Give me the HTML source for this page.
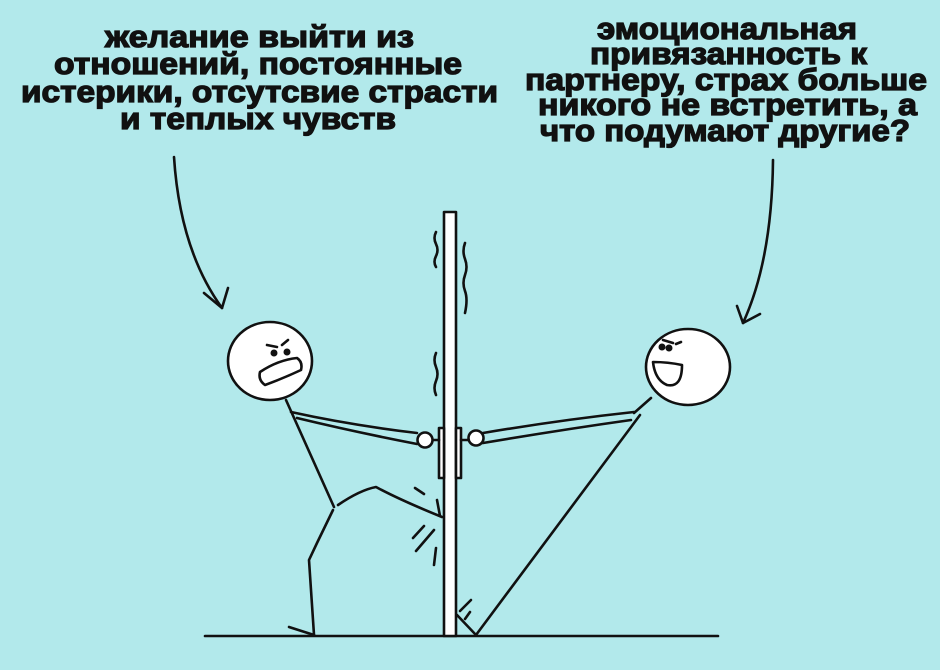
<!DOCTYPE html>
<html><head><meta charset="utf-8"><style>
html,body{margin:0;padding:0;background:#b2e9eb;}
svg{display:block}
text{font-family:"Liberation Sans","DejaVu Sans",sans-serif;font-weight:bold;font-size:31px;fill:#111;stroke:#111;stroke-width:1.3px;}
</style></head><body>
<svg width="940" height="670" viewBox="0 0 940 670" xmlns="http://www.w3.org/2000/svg">
<rect width="940" height="670" fill="#b2e9eb"/>
<g>
<text x="105" y="47" textLength="309" lengthAdjust="spacingAndGlyphs">желание выйти из</text>
<text x="54" y="74" textLength="408" lengthAdjust="spacingAndGlyphs">отношений, постоянные</text>
<text x="21" y="102" textLength="477" lengthAdjust="spacingAndGlyphs">истерики, отсутсвие страсти</text>
<text x="120" y="129" textLength="276" lengthAdjust="spacingAndGlyphs">и теплых чувств</text>
<text x="597" y="39" textLength="260" lengthAdjust="spacingAndGlyphs">эмоциональная</text>
<text x="590" y="64" textLength="277" lengthAdjust="spacingAndGlyphs">привязанность к</text>
<text x="525" y="90" textLength="402" lengthAdjust="spacingAndGlyphs">партнеру, страх больше</text>
<text x="538" y="115" textLength="379" lengthAdjust="spacingAndGlyphs">никого не встретить, а</text>
<text x="540" y="141" textLength="370" lengthAdjust="spacingAndGlyphs">что подумают другие?</text>
</g>
<g fill="none" stroke="#111" stroke-width="2.6" stroke-linecap="round" stroke-linejoin="round">
<path d="M174 157 Q180 250 222 308"/>
<path d="M204 293 L222 308 L228 288"/>
<path d="M773 160 Q772 260 743 323"/>
<path d="M737 306 L743 323 L760 314"/>
<path d="M205 636 L718 636"/>
<rect x="444" y="212" width="12" height="424" fill="#fff"/>
<rect x="439" y="428" width="5" height="50" fill="#fff"/>
<rect x="456" y="428" width="5" height="50" fill="#fff"/>
<path d="M432 440 L439 440 M461 440 L468 440"/>
<path d="M436 232 q-3 6 0 12 q3 6 0 12 q-3 6 0 11"/>
<path d="M465 243 q-3 8 0 16 q3 8 0 16 q-3 8 0 16 q3 8 0 22"/>
<path d="M436 353 q-3 7 0 14 q3 7 0 14 q-3 7 0 14"/>
<path d="M415 488 L424 494"/>
<path d="M437 500 L440 516"/>
<path d="M413 538 L424 526 M416 551 L434 530 M436 548 L434 565"/>
<path d="M460 611 L471 600 M465 619 L470 612"/>
<ellipse cx="270" cy="361" rx="42" ry="39" fill="#fff"/>
<path d="M260 372 Q278 360 297 358 Q303 362 301 370 Q284 378 265 385 Q258 380 260 372 Z" fill="#fff"/>
<circle cx="274" cy="353" r="2.2" fill="#111"/><circle cx="287" cy="352" r="2.2" fill="#111"/>
<path d="M267 345 L277 347 M282 345 L288 340"/>
<path d="M286 400 L334 507"/>
<path d="M291 412 Q350 425 417 433"/>
<path d="M297 418 Q355 432 417 444"/>
<path d="M338 505 Q360 490 376 487 Q400 500 442 517"/>
<path d="M333 510 L317 543 L309 560 L314 635"/>
<path d="M289 627 L314 635"/>
<circle cx="425" cy="440" r="7.5" fill="#fff"/>
<ellipse cx="688" cy="367" rx="42" ry="38" fill="#fff"/>
<path d="M653 362 Q668 362 682 365 Q682 388 667 385 Q655 380 653 362 Z" fill="#fff"/>
<circle cx="662" cy="347" r="2.2" fill="#111"/><circle cx="669" cy="348" r="2.2" fill="#111"/>
<path d="M663 340 L673 343 M676 344 L681 342"/>
<path d="M651 398 L634 413"/>
<path d="M634 412 Q560 420 483 433"/>
<path d="M631 420 Q560 430 483 443"/>
<path d="M640 415 L476 635 L457 615"/>
<circle cx="476" cy="438" r="7.5" fill="#fff"/>
</g>
</svg>
</body></html>
